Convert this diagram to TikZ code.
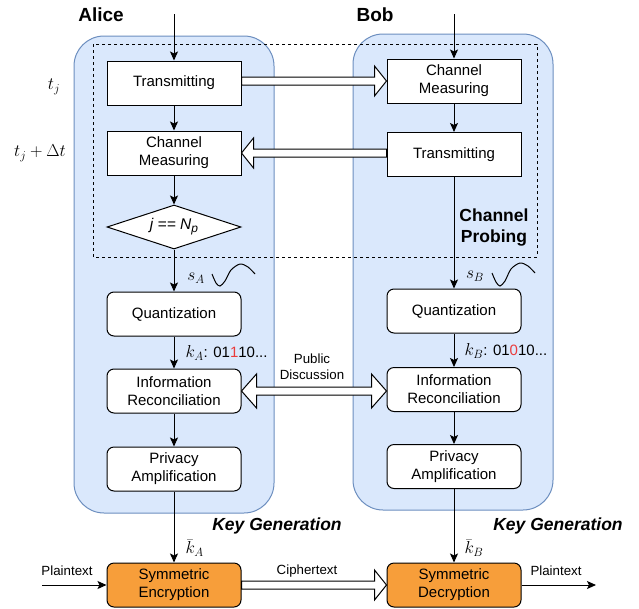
\documentclass[tikz,border=0pt]{standalone}
\usepackage{fontspec}
\setmainfont{Liberation Sans}
\usetikzlibrary{shapes.geometric,arrows.meta,calc}
\definecolor{bluefill}{HTML}{DAE8FC}
\definecolor{bluestroke}{HTML}{6C8EBF}
\definecolor{orangefill}{RGB}{247,158,58}
\definecolor{keyred}{HTML}{EA3B3B}
\begin{document}
\begin{tikzpicture}[x=1pt,y=-1pt,line width=1pt,
  pbox/.style={draw, fill=white, minimum width=134pt, minimum height=44pt, align=center, inner sep=2pt, font=\fontsize{15}{18}\selectfont},
  rbox/.style={pbox, rounded corners=7pt},
  obox/.style={rbox, fill=orangefill},
  lane/.style={draw=bluestroke, fill=bluefill, rounded corners=30pt},
  flow/.style={-{Stealth[length=9pt,width=8pt,inset=2pt]}},
  flex/.style={draw, fill=white, line join=miter},
  lbl/.style={font=\fontsize{13.3}{16}\selectfont, align=center, inner sep=0pt},
  tlbl/.style={font=\fontsize{16.5}{19}\selectfont, inner sep=0pt},
  mlbl/.style={font=\fontsize{18}{21}\selectfont, inner sep=0pt},
  ttl/.style={font=\fontsize{19}{22}\selectfont\bfseries, inner sep=0pt},
  grp/.style={font=\fontsize{17.5}{21}\selectfont\bfseries, align=center, inner sep=0pt},
  kgen/.style={font=\fontsize{17.5}{21}\selectfont\bfseries\itshape, inner sep=0pt},
]
\useasboundingbox (0,0) rectangle (639,608);

% lanes
\draw[lane] (74,36) rectangle (274,513);
\draw[lane] (353,34) rectangle (553,510);
\draw[dash pattern=on 3pt off 3pt] (93,44) rectangle (537,257);

% titles
\node[ttl] (alice) at (101,15) {Alice};
\node[ttl] (bob) at (375,15) {Bob};
\node[tlbl] (tj) at (54,87) {$t_j$};
\node[tlbl] (tjd) at (40,153) {$t_j + \Delta t$};

% Alice nodes
\node[pbox] (aT) at (174,83) {Transmitting};
\node[pbox] (aCM) at (174,153) {Channel\\Measuring};
\node[draw, fill=white, diamond, aspect=3.045, minimum width=134pt, minimum height=44pt, inner sep=0pt, font=\fontsize{15.5}{18}\selectfont] (aD) at (174,227) {\textit{j == N}\raisebox{-3pt}{\fontsize{12}{12}\selectfont\textit{p}}};
\node[rbox] (aQ) at (174,314) {Quantization};
\node[rbox] (aIR) at (174,391) {Information\\Reconciliation};
\node[rbox] (aPA) at (174,469) {Privacy\\Amplification};
\node[obox] (enc) at (174,585) {Symmetric\\Encryption};

% Bob nodes
\node[pbox] (bCM) at (454,81) {Channel\\Measuring};
\node[pbox] (bT) at (454,154.5) {Transmitting};
\node[rbox] (bQ) at (454,311) {Quantization};
\node[rbox] (bIR) at (454,389.5) {Information\\Reconciliation};
\node[rbox] (bPA) at (454,466.5) {Privacy\\Amplification};
\node[obox] (dec) at (454,585) {Symmetric\\Decryption};

% group labels
\node[grp] (cp) at (494,228) {Channel\\Probing};
\node[kgen] (kgA) at (277,526) {Key Generation};
\node[kgen] (kgB) at (558,526) {Key Generation};

% inputs
\coordinate (aIn) at (174,14);
\coordinate (bIn) at (454,14);
\coordinate (pIn) at (42,585);
\coordinate (pOut) at (596,585);

% Alice flow
\draw[flow] (aIn) -- (aT.north);
\draw[flow] (aT.south) -- (aCM.north);
\draw[flow] (aCM.south) -- (aD.north);
\draw[flow] (aD.south) -- (aQ.north);
\draw[flow] (aQ.south) -- (aIR.north);
\draw[flow] (aIR.south) -- (aPA.north);
\draw[flow] (aPA.south) -- (enc.north);

% Bob flow
\draw[flow] (bIn) -- (bCM.north);
\draw[flow] (bCM.south) -- (bT.north);
\draw[flow] (bT.south) -- (bQ.north);
\draw[flow] (bQ.south) -- (bIR.north);
\draw[flow] (bIR.south) -- (bPA.north);
\draw[flow] (bPA.south) -- (dec.north);

% plaintext
\draw[flow] (pIn) -- (enc.west);
\draw[flow] (dec.east) -- (pOut);
\node[lbl] (ptL) at (67,571) {Plaintext};
\node[lbl] (ptR) at (556,571) {Plaintext};
\node[lbl] (ct) at (307,571) {Ciphertext};
\node[lbl] (pub) at (312,367) {Public\\Discussion};

% flex arrows
\draw[flex] let \p1=(aT.east), \p2=(bCM.west) in
  (\x1,\y2+4pt) -- (\x2-12pt,\y2+4pt) -- (\x2-12pt,\y2+15pt) -- (\x2,\y2) -- (\x2-12pt,\y2-15pt) -- (\x2-12pt,\y2-4pt) -- (\x1,\y2-4pt) -- cycle;
\draw[flex] let \p1=(bT.west), \p2=(aCM.east) in
  (\x1,\y2+4pt) -- (\x2+12pt,\y2+4pt) -- (\x2+12pt,\y2+15pt) -- (\x2,\y2) -- (\x2+12pt,\y2-15pt) -- (\x2+12pt,\y2-4pt) -- (\x1,\y2-4pt) -- cycle;
\draw[flex] let \p1=(aIR.east), \p2=(bIR.west) in
  (\x1,\y1) -- (\x1+15pt,\y1+17pt) -- (\x1+15pt,\y1+4pt) -- (\x2-15pt,\y1+4pt) -- (\x2-15pt,\y1+17pt) -- (\x2,\y1) -- (\x2-15pt,\y1-17pt) -- (\x2-15pt,\y1-4pt) -- (\x1+15pt,\y1-4pt) -- (\x1+15pt,\y1-17pt) -- cycle;
\draw[flex] let \p1=(enc.east), \p2=(dec.west) in
  (\x1,\y2+4pt) -- (\x2-12pt,\y2+4pt) -- (\x2-12pt,\y2+15pt) -- (\x2,\y2) -- (\x2-12pt,\y2-15pt) -- (\x2-12pt,\y2-4pt) -- (\x1,\y2-4pt) -- cycle;

% signal labels
\node[mlbl] (sA) at (196,278) {$s_A$};
\node[mlbl] (sB) at (475,276) {$s_B$};
\draw plot[smooth] coordinates {(212,274) (216,283) (220,286) (225,281) (231,270) (240,264) (248,267) (255,274)};
\draw plot[smooth] coordinates {(492,273) (496,282) (500,286) (505,281) (511,269) (520,263) (528,266) (535,273)};
\node[mlbl, anchor=west] (kA) at (185,353) {$k_A$\fontsize{15}{18}\selectfont: 01\textcolor{keyred}{1}10...};
\node[mlbl, anchor=west] (kB) at (464,351) {$k_B$\fontsize{15}{18}\selectfont: 01\textcolor{keyred}{0}10...};
\node[mlbl, anchor=west] (kbA) at (185,548) {$\bar{k}_A$};
\node[mlbl, anchor=west] (kbB) at (464,548) {$\bar{k}_B$};
\end{tikzpicture}
\end{document}
